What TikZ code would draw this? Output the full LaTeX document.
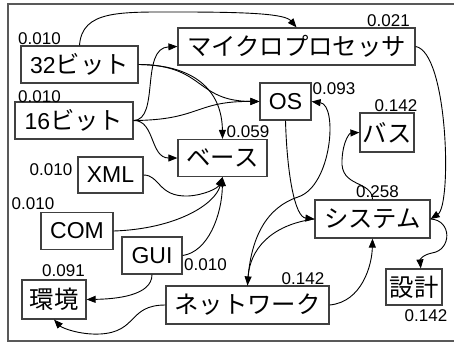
\documentclass[tikz,border=0pt]{standalone}
\usepackage{fontspec}
\setmainfont{Liberation Sans}
\newfontfamily\cjk[Scale=1.06]{Noto Sans CJK JP}
\usetikzlibrary{arrows.meta}
\definecolor{boxc}{gray}{0.25}
\definecolor{framec}{gray}{0.35}
\begin{document}
\begin{tikzpicture}[x=1pt,y=-1pt,
  box/.style={draw=boxc, line width=1.2pt, minimum height=37pt, inner sep=0pt, font=\fontsize{23}{27}\selectfont},
  val/.style={font=\fontsize{17}{20}\selectfont, inner sep=0pt},
  edge/.style={-{Triangle[length=9pt,width=7pt]}, line width=0.9pt}]
\useasboundingbox (0,0) rectangle (454,343);
\draw[framec, line width=1.5pt] (454,4) -- (8,4) -- (8,341) -- (454,341);

\node[box, minimum width=117pt] (n32) at (79.5,64.5) {32{\cjk ビット}};
\node[box, minimum width=118pt] (n16) at (74,120.5) {16{\cjk ビット}};
\node[box, minimum width=237pt] (micro) at (296.5,46.5) {\cjk マイクロプロセッサ};
\node[box, minimum width=51pt] (os) at (285.5,101.5) {OS};
\node[box, minimum width=54pt, minimum height=39pt] (bus) at (387,132.5) {\cjk バス};
\node[box, minimum width=89pt] (base) at (222.5,158) {\cjk ベース};
\node[box, minimum width=65pt, minimum height=36pt] (xml) at (110.5,175) {XML};
\node[box, minimum width=72pt] (com) at (77,231) {COM};
\node[box, minimum width=60pt] (gui) at (152,255.5) {GUI};
\node[box, minimum width=64pt, minimum height=39pt] (env) at (54,299.5) {\cjk 環境};
\node[box, minimum width=163pt, minimum height=38pt] (net) at (247.5,305) {\cjk ネットワーク};
\node[box, minimum width=115pt, minimum height=38pt] (sys) at (372.5,219) {\cjk システム};
\node[box, minimum width=56pt, minimum height=36pt] (design) at (414,287) {\cjk 設計};

\node[val] (l32) at (39.5,38.5) {0.010};
\node[val] (l16) at (39.5,97) {0.010};
\node[val] (lmicro) at (388.5,21) {0.021};
\node[val] (los) at (334,89) {0.093};
\node[val] (lbus) at (396,106) {0.142};
\node[val] (lbase) at (248,132) {0.059};
\node[val] (lxml) at (51,170) {0.010};
\node[val] (lcom) at (33,203.5) {0.010};
\node[val] (lgui) at (205.5,265) {0.010};
\node[val] (lenv) at (63.5,271) {0.091};
\node[val] (lnet) at (303,279) {0.142};
\node[val] (lsys) at (377.5,192) {0.258};
\node[val] (ldesign) at (426,316) {0.142};

% edges
\draw[edge] (n32.north) .. controls (82,10) and (120,12) .. (180,12) .. controls (250,12) and (285,14) .. (micro.north);
\draw[edge] (n32.east) .. controls (205,65) and (195,101) .. (os.west);
\draw[edge] (n32.east) .. controls (200,65) and (222,95) .. (base.north);
\draw[edge] (n16.east) .. controls (160,120) and (140,48) .. (micro.west);
\draw[edge] (n16.east) .. controls (200,120) and (195,101) .. (os.west);
\draw[edge] (n16.east) .. controls (155,120) and (150,158) .. (base.west);
\draw[edge] (xml.east) .. controls (160,175) and (158,197) .. (188,196) .. controls (205,195) and (218,188) .. (base.south);
\draw[edge] (com.east) .. controls (175,229) and (215,205) .. (base.south);
\draw[edge] (gui.east) .. controls (208,252) and (222,215) .. (base.south);
\draw[edge] (gui.south) .. controls (152,296) and (115,299) .. (env.east);
\draw[edge] (net.west) .. controls (128,305) and (138,332) .. (100,334) .. controls (80,335) and (62,328) .. (env.south);
\draw[edge] (net.east) .. controls (362,302) and (372,265) .. (sys.south);
\draw[edge] (sys.west) .. controls (270,225) and (250,250) .. (net.north);
\draw[edge] (net.north) .. controls (250,235) and (268,207) .. (298,197) .. controls (332,186) and (338,105) .. (os.east);
\draw[edge] (os.south) .. controls (287,175) and (295,217) .. (sys.west);
\draw[edge] (sys.north) .. controls (372,180) and (340,188) .. (342,160) .. controls (343,140) and (350,133) .. (bus.west);
\draw[edge] (micro.east) .. controls (448,52) and (452,205) .. (sys.east);
\draw[edge] (sys.east) .. controls (452,220) and (452,250) .. (432,253) .. controls (422,255) and (420,260) .. (design.70);
\end{tikzpicture}
\end{document}
